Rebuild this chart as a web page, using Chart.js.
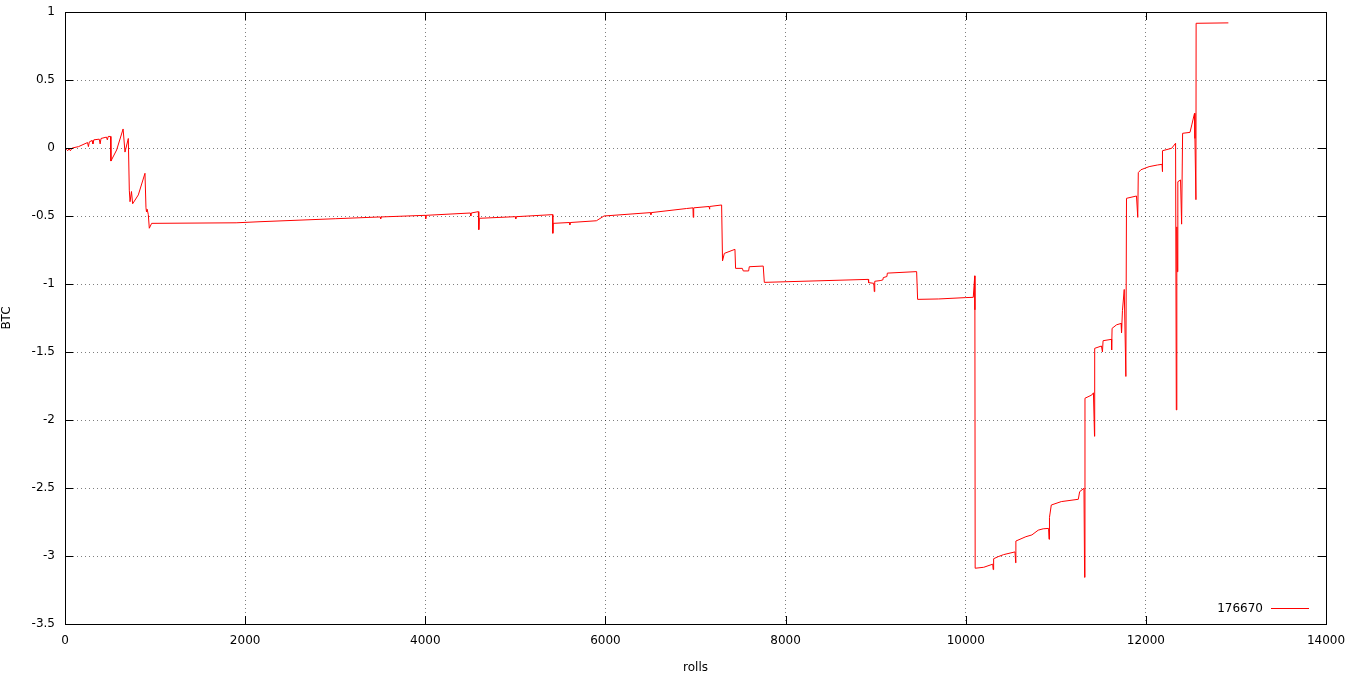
<!DOCTYPE html>
<html>
<head>
<meta charset="utf-8">
<script src="https://cdn.jsdelivr.net/npm/chart.js@4.4.1/dist/chart.umd.min.js"></script>
<style>
  html, body { margin: 0; padding: 0; background: #fff; }
  #wrap { width: 1349px; height: 675px; }
</style>
</head>
<body>
<div id="wrap"><canvas id="rollsChart" width="1349" height="675"></canvas></div>
<script>
// データ (読み取り値)
const seriesLabel = '176670';
const rolls = [
    0, 15, 30, 45, 60, 80, 150, 200, 250, 260, 270, 300, 310, 320, 380, 390, 400, 460, 470, 480,
    505, 510, 573, 645, 666, 703, 714, 722, 738, 751, 814, 888, 899, 905, 912, 925, 936, 962,
    1900, 2165, 3000, 3500, 3505, 3510, 4000, 4005, 4010, 4500, 4505, 4510, 4589, 4594, 4600,
    5000, 5005, 5010, 5414, 5416, 5420, 5600, 5605, 5610, 5900, 5984, 6500, 6505, 6510, 6900,
    6972, 6975, 6980, 7150, 7155, 7160, 7290,
    7300, 7320, 7438, 7445, 7520, 7530, 7590, 7597, 7752, 7764, 8918, 8922, 8980, 8985, 8990, 9050,
    9080, 9085, 9125, 9130, 9455, 9466, 9700, 10000, 10084, 10100, 10102,
    10105, 10200, 10300, 10305, 10310, 10360, 10420, 10547, 10555, 10557, 10668, 10735, 10805,
    10860, 10920, 10925, 10930, 10950, 11061, 11250, 11265, 11313, 11320, 11324, 11400, 11418,
    11430, 11432, 11507, 11518, 11525, 11618, 11620, 11625, 11675, 11725, 11730, 11740, 11760,
    11778, 11785, 11896, 11910, 11916, 11945, 12036, 12128, 12180, 12183, 12186, 12287, 12330, 12338,
    12344, 12350, 12355, 12385, 12397, 12408, 12490, 12510, 12540, 12545, 12556, 12558, 12916
];
const btc = [
    0, -0.01, -0.02, -0.005, -0.02, 0, 0.01, 0.025, 0.04, 0.01, 0.045, 0.055, 0.03, 0.06, 0.065, 0.03, 0.07, 0.08, 0.06, 0.085,
    0.085, -0.096, -0.015, 0.14, -0.03, 0.07, -0.31, -0.395, -0.32, -0.41, -0.345, -0.186, -0.44, -0.47, -0.45, -0.49, -0.59, -0.554,
    -0.55, -0.542, -0.52, -0.507, -0.52, -0.507, -0.495, -0.52, -0.495, -0.478, -0.5, -0.478, -0.468, -0.6, -0.517,
    -0.505, -0.52, -0.505, -0.49, -0.627, -0.554, -0.548, -0.565, -0.548, -0.535, -0.5, -0.475, -0.49, -0.475, -0.445,
    -0.44, -0.51, -0.44, -0.43, -0.45, -0.43, -0.419,
    -0.83, -0.775, -0.745, -0.885, -0.885, -0.904, -0.904, -0.873, -0.868, -0.988, -0.966, -0.99, -0.995, -1.056, -0.98, -0.975,
    -0.97, -0.953, -0.945, -0.92, -0.909, -1.113, -1.11, -1.1, -1.098, -0.94, -1.19,
    -3.09, -3.083, -3.06, -3.1, -3.02, -3.005, -2.99, -2.97, -3.05, -2.89, -2.858, -2.845, -2.81,
    -2.8, -2.797, -2.877, -2.716, -2.625, -2.6, -2.583, -2.527, -2.502, -3.157, -1.84, -1.816, -1.8,
    -2.12, -1.473, -1.456, -1.5, -1.417, -1.407, -1.485, -1.326, -1.3, -1.29, -1.358, -1.196, -1.04,
    -1.68, -0.37, -0.353, -0.51, -0.181, -0.16, -0.137, -0.125, -0.12, -0.174, -0.02, -0.002, 0.035, -1.926,
    -0.58, -0.91, -0.248, -0.235, -0.56, 0.108, 0.115, 0.17, 0.255, 0.07, -0.38, 0.917, 0.92
];
const xTicks = [0, 2000, 4000, 6000, 8000, 10000, 12000, 14000];
const yTicks = [1, 0.5, 0, -0.5, -1, -1.5, -2, -2.5, -3, -3.5];

const points = rolls.map((r, i) => ({ x: r, y: btc[i] }));
const fontSpec = { family: 'DejaVu Sans', size: 12 };

// gnuplot風の枠・内向き目盛り・凡例
const gnuplotFrame = {
    id: 'gnuplotFrame',
    afterDraw(chart) {
        const { ctx, chartArea: a, scales } = chart;
        ctx.save();
        ctx.strokeStyle = '#000';
        ctx.lineWidth = 1;
        ctx.beginPath();
        xTicks.forEach(v => {
            const px = Math.round(scales.x.getPixelForValue(v)) + 0.5;
            ctx.moveTo(px, a.bottom); ctx.lineTo(px, a.bottom - 8);
            ctx.moveTo(px, a.top); ctx.lineTo(px, a.top + 8);
        });
        yTicks.forEach(v => {
            const py = Math.round(scales.y.getPixelForValue(v)) + 0.5;
            ctx.moveTo(a.left, py); ctx.lineTo(a.left + 8, py);
            ctx.moveTo(a.right, py); ctx.lineTo(a.right - 8, py);
        });
        ctx.stroke();
        ctx.strokeRect(Math.round(a.left) + 0.5, Math.round(a.top) + 0.5,
            Math.round(a.right - a.left), Math.round(a.bottom - a.top));
        // 凡例
        const ly = a.bottom - 15.5;
        ctx.font = '12px "DejaVu Sans"';
        ctx.fillStyle = '#000';
        ctx.textAlign = 'right';
        ctx.textBaseline = 'middle';
        ctx.fillText(seriesLabel, a.right - 63, ly);
        ctx.strokeStyle = '#ff0000';
        ctx.beginPath();
        ctx.moveTo(a.right - 55, ly); ctx.lineTo(a.right - 17, ly);
        ctx.stroke();
        ctx.restore();
    }
};

new Chart(document.getElementById('rollsChart'), {
    type: 'scatter',
    data: {
        datasets: [{
            label: seriesLabel,
            data: points,
            showLine: true,
            borderColor: '#ff0000',
            borderWidth: 1,
            pointRadius: 0,
            tension: 0
        }]
    },
    options: {
        responsive: false,
        animation: false,
        layout: { padding: { top: 12, right: 23, left: 0, bottom: 0 } },
        scales: {
            x: {
                type: 'linear',
                min: 0,
                max: 14000,
                afterFit: s => { s.height = 51; s.paddingLeft = 0; s.paddingRight = 0; },
                afterBuildTicks: s => { s.ticks = xTicks.map(v => ({ value: v })); },
                ticks: { font: fontSpec, color: '#000', padding: 10, maxRotation: 0, callback: v => String(v) },
                grid: { color: 'rgba(0,0,0,0.5)', drawTicks: false, lineWidth: 1 },
                border: { display: false, dash: [1, 3] },
                title: { display: true, text: 'rolls', font: fontSpec, color: '#000', padding: { top: 5, bottom: 0 } }
            },
            y: {
                type: 'linear',
                min: -3.5,
                max: 1,
                afterFit: s => { s.width = 65; s.paddingTop = 0; s.paddingBottom = 0; },
                afterBuildTicks: s => { s.ticks = yTicks.map(v => ({ value: v })); },
                ticks: { font: fontSpec, color: '#000', padding: 10, callback: v => String(v) },
                grid: { color: 'rgba(0,0,0,0.5)', drawTicks: false, lineWidth: 1 },
                border: { display: false, dash: [1, 3] },
                title: { display: true, text: 'BTC', font: fontSpec, color: '#000', padding: { top: 0, bottom: 0 } }
            }
        },
        plugins: {
            legend: { display: false },
            tooltip: { enabled: false }
        }
    },
    plugins: [gnuplotFrame]
});
</script>
</body>
</html>
